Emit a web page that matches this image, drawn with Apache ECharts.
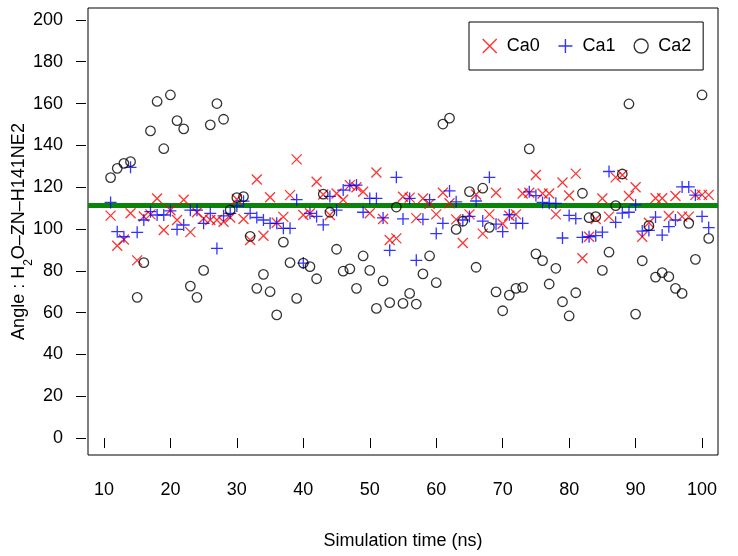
<!DOCTYPE html>
<html>
<head>
<meta charset="utf-8">
<script src="https://cdn.jsdelivr.net/npm/echarts@6/dist/echarts.min.js"></script>
<style>html,body{margin:0;padding:0;background:#fff}#c{width:738px;height:556px}</style>
</head>
<body>
<div id="c"></div>
<script>
var times = [11,12,13,14,15,16,17,18,19,20,21,22,23,24,25,26,27,28,29,30,31,32,33,34,35,36,37,38,39,40,41,42,43,44,45,46,47,48,49,50,51,52,53,54,55,56,57,58,59,60,61,62,63,64,65,66,67,68,69,70,71,72,73,74,75,76,77,78,79,80,81,82,83,84,85,86,87,88,89,90,91,92,93,94,95,96,97,98,99,100,101];
var ca0 = [106.4,92,95,107.5,85,106,107,114.6,99.5,109,104.3,114,98.5,108,105,104.3,104.3,103.5,105.5,114.2,104.8,94.7,123.7,96.8,115.2,103,105.8,116.2,133.3,106.7,107.5,122.6,116.5,106.7,117,114,121,120,117.8,107.5,127,104.8,94.7,95.5,115.4,115,105.2,114.6,112,107,117.3,112.3,104.6,93.3,107,116.5,97.8,107,117.3,102.5,106.3,107,117,117.3,125.8,117,117,107,122.2,116,126.5,86,96.3,104.8,114.6,105.9,124.7,125.8,115.8,120,96.3,103,114.7,114.7,106.2,115.8,105.9,105.9,116.3,116.3,116.3];
var ca1 = [112.7,98.7,96.3,129.5,98.4,104.3,108.3,106.7,106.7,108.7,99.8,101.9,109,109,102.7,107.5,90.7,106.3,107.5,111,113.3,107.5,105.5,104.3,102.7,102.7,100.3,100.3,114,83.7,107.5,106,102,115.6,109,118.6,120.8,121,108,114.6,114.6,105.3,89.8,124.7,104.8,114.6,85,104.6,114,97.8,102.7,118.2,113,104.3,106,113.4,103.8,124.7,102.3,98.7,106.8,102.7,102.7,117.8,116,112.7,112.3,112.3,95.7,106.5,105,96,96.3,96.8,98.5,127.5,103.2,107.6,108,111.5,99,99.3,105.7,97.1,101.1,104.3,120.1,120.1,116.2,106,100.7];
var ca2 = [124.6,129,131.4,132.2,67.3,83.9,146.9,161,138.4,164.1,151.8,147.9,72.7,67.3,80.2,149.8,160,152.5,109.1,115,115.5,96.5,71.6,78.3,70,58.9,93.7,83.9,66.8,83.7,82,76.2,116.7,108,90.3,79.8,80.9,71.6,87.1,80.2,62,75.2,64.8,110.5,64.4,69.2,64.1,78.5,87.1,74.3,150.2,153,99.8,103.7,117.9,81.7,119.5,100.8,69.9,60.9,68.4,71.6,72.1,138.3,88.1,84.9,73.7,81.2,65.2,58.4,69.5,117.1,105.4,105.9,80.2,88.9,111.2,126.3,159.8,59.3,84.8,101.6,77,79.1,77.2,71.6,69.2,102.7,85.5,164.1,95.5];
var refLine = 111.2;
var xTicks = [10,20,30,40,50,60,70,80,90,100];
var yTicks = [0,20,40,60,80,100,120,140,160,180,200];
var seriesNames = ['Ca0','Ca1','Ca2'];

function pairs(v){ return times.map(function(t,i){ return [t, v[i]]; }); }
var FONT = 'Liberation Sans';
var X_PATH = 'path://M0,0L10,10M10,0L0,10';
var P_PATH = 'path://M5,0L5,10M0,5L10,5';
var XMIN = 7.6, XMAX = 102.4, YMIN = -8.1, YMAX = 205.7;

var chart = echarts.init(document.getElementById('c'), null, {renderer:'canvas'});
chart.setOption({
  animation:false,
  backgroundColor:'#fff',
  textStyle:{fontFamily:FONT},
  grid:{left:88, right:20, top:8, bottom:101, show:true, borderColor:'#000', borderWidth:1,
        backgroundColor:'transparent', containLabel:false, outerBoundsMode:'none'},
  legend:{
    left:469, top:22, orient:'horizontal',
    padding:[15,12,15,13], itemGap:18, itemWidth:14, itemHeight:14,
    borderColor:'#000', borderWidth:1,
    formatter:function(n){ return ' ' + n; },
    textStyle:{fontSize:18, color:'#000', fontFamily:FONT},
    data:[
      {name:seriesNames[0], icon:X_PATH, itemStyle:{color:'transparent', borderColor:'#ff0000', borderWidth:1.4}},
      {name:seriesNames[1], icon:P_PATH, itemStyle:{color:'transparent', borderColor:'#0000ff', borderWidth:1.4}},
      {name:seriesNames[2], icon:'circle', itemStyle:{color:'transparent', borderColor:'#000', borderWidth:1.4}}
    ]
  },
  xAxis:{
    type:'value', min:XMIN, max:XMAX, offset:6,
    name:'Simulation time (ns)', nameLocation:'middle', nameGap:71, nameMoveOverlap:false,
    nameTextStyle:{fontSize:18, color:'#000', fontFamily:FONT},
    axisLine:{show:false},
    axisTick:{show:true, length:10, customValues:xTicks, lineStyle:{color:'#000', width:1}},
    axisLabel:{customValues:xTicks, fontSize:18, color:'#000', margin:20, fontFamily:FONT},
    splitLine:{show:false}
  },
  yAxis:{
    type:'value', min:YMIN, max:YMAX, offset:2,
    name:'Angle : H{sub|2}O\u2013ZN\u2013H141NE2', nameLocation:'middle', nameGap:58, nameRotate:90, nameMoveOverlap:false,
    nameTextStyle:{fontSize:18, color:'#000', fontFamily:FONT, rich:{sub:{fontSize:12, verticalAlign:'bottom', padding:[0,0,-7,0], fontFamily:FONT}}},
    axisLine:{show:false},
    axisTick:{show:true, length:10, customValues:yTicks, lineStyle:{color:'#000', width:1}},
    axisLabel:{customValues:yTicks, fontSize:18, color:'#000', margin:23, fontFamily:FONT},
    splitLine:{show:false}
  },
  series:[
    {name:'ref', type:'line', data:[[XMIN,refLine],[XMAX,refLine]], symbol:'none', z:1,
     lineStyle:{color:'#0a850a', width:5}, silent:true},
    {name:seriesNames[0], type:'scatter', data:pairs(ca0), symbol:X_PATH, symbolSize:10, z:3,
     itemStyle:{color:'transparent', borderColor:'#ff0000', borderWidth:1.3}},
    {name:seriesNames[1], type:'scatter', data:pairs(ca1), symbol:P_PATH, symbolSize:12, z:3,
     itemStyle:{color:'transparent', borderColor:'#0000ff', borderWidth:1.3}},
    {name:seriesNames[2], type:'scatter', data:pairs(ca2), symbol:'circle', symbolSize:9.5, z:3,
     itemStyle:{color:'transparent', borderColor:'#000000', borderWidth:1.3}}
  ]
});
</script>
</body>
</html>
